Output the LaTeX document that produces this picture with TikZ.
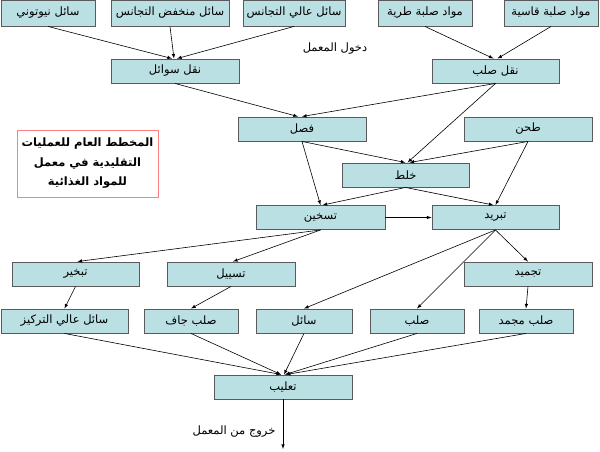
\documentclass[tikz,border=0pt]{standalone}
\usepackage{fontspec}
\setmainfont{DejaVu Sans}
\newfontfamily\arabicfont[Script=Arabic]{DejaVu Sans}
\TeXXeTstate=1
\usetikzlibrary{positioning}
\definecolor{boxfill}{RGB}{187,224,227}
\definecolor{boxline}{RGB}{90,90,90}
\definecolor{titleline}{RGB}{255,128,128}

\begin{document}
\begin{tikzpicture}[x=1pt, y=-1pt,
    stage/.style={draw=boxline, fill=boxfill, line width=0.9pt, minimum height=24pt, inner sep=0pt, font=\arabicfont\fontsize{11.5}{13}\selectfont},
    note/.style={font=\arabicfont\fontsize{11.5}{13}\selectfont},
    flow/.style={-latex, line width=0.6pt}]
      \useasboundingbox (0,0) rectangle (600,452);

      \node[stage, minimum width=94pt, minimum height=26pt] (Newton) at (48,13) {\beginR سائل نيوتوني\endR};
      \node[stage, on grid, right=122pt of Newton, minimum width=118pt, minimum height=26pt] (LowHom) {\beginR سائل منخفض التجانس\endR};
      \node[stage, on grid, right=124pt of LowHom, minimum width=102pt, minimum height=26pt] (HighHom) {\beginR سائل عالي التجانس\endR};
      \node[stage, on grid, right=131pt of HighHom, minimum width=94pt, minimum height=26pt] (SoftSolid) {\beginR مواد صلبة طرية\endR};
      \node[stage, on grid, right=126pt of SoftSolid, minimum width=94pt, minimum height=26pt] (HardSolid) {\beginR مواد صلبة قاسية\endR};

      \node[note] (Entry) at (335,49) {\beginR دخول المعمل\endR};
      \node[stage, minimum width=128pt] (LiqTrans) at (175,71) {\beginR نقل سوائل\endR};
      \node[stage, on grid, right=320.5pt of LiqTrans, minimum width=127pt] (SolTrans) {\beginR نقل صلب\endR};

      \node[stage, minimum width=128pt] (Separate) at (302,129) {\beginR فصل\endR};
      \node[stage, on grid, right=226pt of Separate, minimum width=128pt] (Grind) {\beginR طحن\endR};
      \node[draw=titleline, line width=1pt, fill=white, minimum width=141pt, minimum height=67pt, align=center,
            font=\arabicfont\bfseries\fontsize{11.5}{19.5}\selectfont] (Title) at (87.5,163.5)
            {\beginR المخطط العام للعمليات\endR\\ \beginR التقليدية في معمل\endR\\ \beginR للمواد الغذائية\endR};

      \node[stage, minimum width=127pt] (Mix) at (405.5,175) {\beginR خلط\endR};
      \node[stage, minimum width=129pt] (Heat) at (320.5,217.5) {\beginR تسخين\endR};
      \node[stage, on grid, right=175pt of Heat, minimum width=127pt] (Cool) {\beginR تبريد\endR};

      \node[stage, minimum width=127pt] (Evap) at (75.5,274) {\beginR تبخير\endR};
      \node[stage, on grid, right=155.5pt of Evap, minimum width=128pt] (Liquefy) {\beginR تسييل\endR};
      \node[stage, on grid, right=297pt of Liquefy, minimum width=128pt] (Freeze) {\beginR تجميد\endR};

      \node[stage, minimum width=127pt] (Conc) at (64.5,321) {\beginR سائل عالي التركيز\endR};
      \node[stage, on grid, right=126.5pt of Conc, minimum width=94pt] (DrySolid) {\beginR صلب جاف\endR};
      \node[stage, on grid, right=113pt of DrySolid, minimum width=96pt] (Liquid) {\beginR سائل\endR};
      \node[stage, on grid, right=113pt of Liquid, minimum width=94pt] (Solid) {\beginR صلب\endR};
      \node[stage, on grid, right=109pt of Solid, minimum width=94pt] (Frozen) {\beginR صلب مجمد\endR};

      \node[stage, minimum width=138pt] (Can) at (283,387) {\beginR تعليب\endR};
      \node[note] (Exit) at (234,432) {\beginR خروج من المعمل\endR};
      \coordinate (Out) at (283,449);

      \draw[flow] (Newton.south) to ([xshift=-3pt]LiqTrans.north);
      \draw[flow] (LowHom.south) to ([xshift=-1pt]LiqTrans.north);
      \draw[flow] (HighHom.south) to ([xshift=2pt]LiqTrans.north);
      \draw[flow] (SoftSolid.south) to ([xshift=-2pt]SolTrans.north);
      \draw[flow] (HardSolid.south) to ([xshift=2pt]SolTrans.north);
      \draw[flow] (LiqTrans.south) to ([xshift=-4pt]Separate.north);
      \draw[flow] (SolTrans.south) to (Separate.north);
      \draw[flow] (SolTrans.south) to ([xshift=2pt]Mix.north);
      \draw[flow] (Separate.south) to (Mix.north);
      \draw[flow] (Grind.south) to ([xshift=4pt]Mix.north);
      \draw[flow] (Separate.south) to (Heat.north);
      \draw[flow] (Grind.south) to (Cool.north);
      \draw[flow] (Mix.south) to ([xshift=2pt]Heat.north);
      \draw[flow] (Mix.south) to ([xshift=-2pt]Cool.north);
      \draw[flow] (Heat.east) to (Cool.west);
      \draw[flow] (Heat.south) to ([xshift=2pt]Evap.north);
      \draw[flow] (Heat.south) to ([xshift=2pt]Liquefy.north);
      \draw[flow] (Cool.south) to (Liquid.north);
      \draw[flow] (Cool.south) to (Solid.north);
      \draw[flow] (Cool.south) to (Freeze.north);
      \draw[flow] (Evap.south) to (Conc.north);
      \draw[flow] (Liquefy.south) to (DrySolid.north);
      \draw[flow] (Freeze.south) to (Frozen.north);
      \draw[flow] (Conc.south) to ([xshift=-2pt]Can.north);
      \draw[flow] (DrySolid.south) to ([xshift=-2pt]Can.north);
      \draw[flow] (Liquid.south) to ([xshift=1pt]Can.north);
      \draw[flow] (Solid.south) to ([xshift=2pt]Can.north);
      \draw[flow] (Frozen.south) to ([xshift=3pt]Can.north);
      \draw[flow] (Can.south) to (Out);
    \end{tikzpicture}
\end{document}
